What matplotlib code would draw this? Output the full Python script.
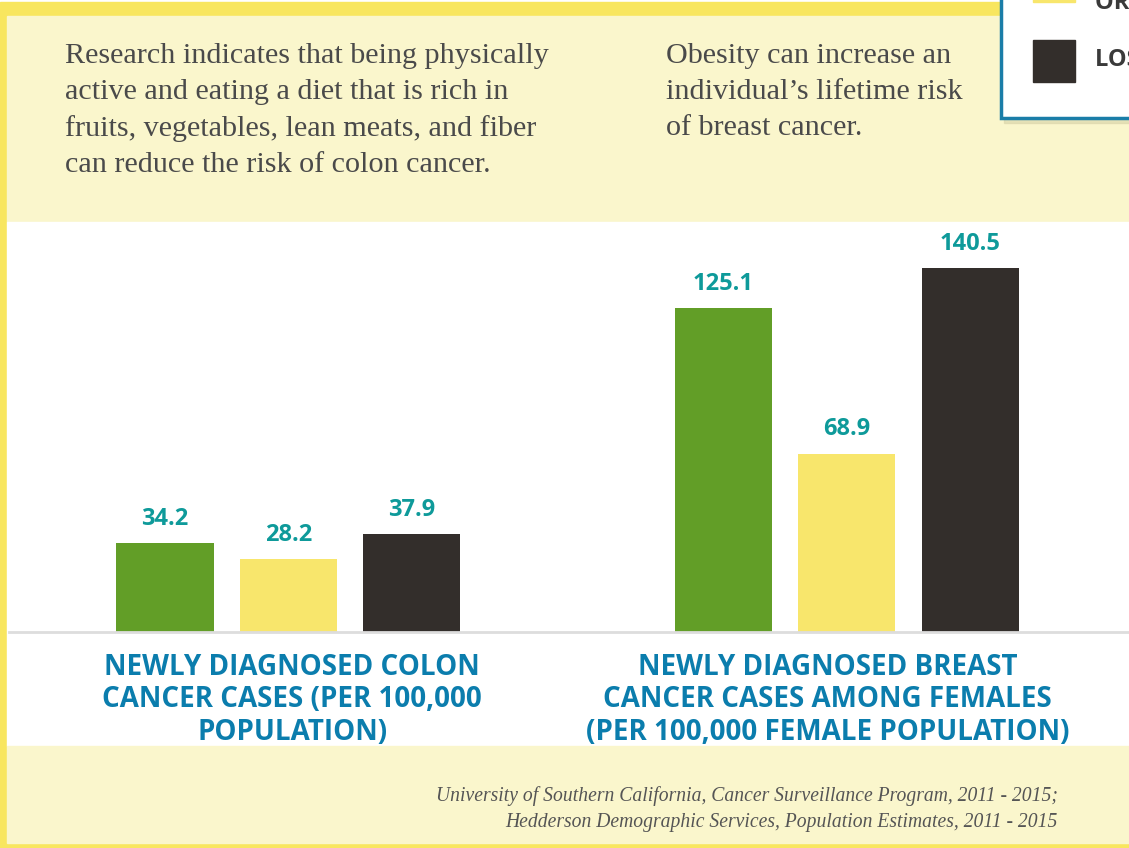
import matplotlib
matplotlib.use("Agg")
import matplotlib.pyplot as plt
from matplotlib.patches import Rectangle

# data
categories = ["NEWLY DIAGNOSED COLON\nCANCER CASES (PER 100,000\nPOPULATION)",
              "NEWLY DIAGNOSED BREAST\nCANCER CASES AMONG FEMALES\n(PER 100,000 FEMALE POPULATION)"]
series_names = ["GREEN", "ORANGE COUNTY", "LOS ANGELES COUNTY"]
green_vals = [34.2, 125.1]
yellow_vals = [28.2, 68.9]
black_vals = [37.9, 140.5]

bar_colors = ["#629E27", "#F8E66C", "#332E2B"]
teal = "#0E9A9A"
blue = "#0B7DAD"
yellow_border = "#F8E65F"
cream = "#FAF6CC"
text_gray = "#4A4A4A"

W, H = 1129, 848
fig = plt.figure(figsize=(W / 100, H / 100), dpi=100)
fig.patch.set_facecolor("white")

# background layer in pixel coordinates
bg = fig.add_axes([0, 0, 1, 1])
bg.set_xlim(0, W)
bg.set_ylim(H, 0)
bg.axis("off")
bg.add_patch(Rectangle((0, 2), W, H, color=yellow_border, zorder=0))
bg.add_patch(Rectangle((7, 16), W, 206, color=cream, zorder=1))
bg.add_patch(Rectangle((7, 222), W, 524, color="white", zorder=1))
bg.add_patch(Rectangle((7, 746), W, 97, color=cream, zorder=1))

serif = ["Liberation Serif", "DejaVu Serif"]
bg.text(65, 43, "Research indicates that being physically\nactive and eating a diet that is rich in\n"
        "fruits, vegetables, lean meats, and fiber\ncan reduce the risk of colon cancer.",
        family=serif, fontsize=21.7, color=text_gray, va="top", ha="left",
        linespacing=1.49, zorder=3)
bg.text(666, 43, "Obesity can increase an\nindividual\u2019s lifetime risk\nof breast cancer.",
        family=serif, fontsize=21.7, color=text_gray, va="top", ha="left",
        linespacing=1.49, zorder=3)

# legend box (cut off at right edge)
bg.add_patch(Rectangle((1004, -5), 140, 128, color="#D8D3A8", alpha=0.6, zorder=3))
bg.add_patch(Rectangle((1001, -5), 140, 123, facecolor="white", edgecolor="#1A7DA8",
                       linewidth=2.5, zorder=4))
bg.add_patch(Rectangle((1033, -10), 42, 12, color=bar_colors[1], zorder=5))
bg.add_patch(Rectangle((1033, 40), 42, 42, color=bar_colors[2], zorder=5))
bg.text(1095, 3, series_names[1], family="Open Sans", fontweight="bold", fontsize=17,
        color="#3A3A3A", va="center", ha="left", zorder=5, clip_on=True)
bg.text(1095, 60, series_names[2], family="Open Sans", fontweight="bold", fontsize=17,
        color="#3A3A3A", va="center", ha="left", zorder=5, clip_on=True)

# source
bg.text(1058, 809, "University of Southern California, Cancer Surveillance Program, 2011 - 2015;\n"
        "Hedderson Demographic Services, Population Estimates, 2011 - 2015",
        family=serif, style="italic", fontsize=14.1, color="#555555",
        ha="right", va="center", linespacing=1.5, zorder=3)

# bar axes
ax = fig.add_axes([9 / W, 1 - 632 / H, (W - 9) / W, (632 - 222) / H])
ax.set_facecolor("none")
step = 123.5
group_gap = 558 / step
x0 = (288.5 - 9) / step
ax.set_xlim(0, (W - 9) / step)
ax.set_ylim(0, 410 / 2.59)
width = 97 / step
label_shift = [0.03, -0.155]
for g in range(2):
    vals = [green_vals[g], yellow_vals[g], black_vals[g]]
    for k, v in enumerate(vals):
        xc = x0 + g * group_gap + (k - 1)
        ax.bar(xc, v, width=width, color=bar_colors[k], zorder=2)
        ax.text(xc, v + 9.3, f"{v}", ha="center", va="center", color=teal,
                family="Open Sans", fontweight="bold", fontsize=17)
    ax.text(x0 + g * group_gap + label_shift[g], -8.0, categories[g], ha="center", va="top",
            color=blue, family="Open Sans", fontweight="bold", fontsize=20,
            linespacing=1.16, clip_on=False)
for s in ["top", "right", "left"]:
    ax.spines[s].set_visible(False)
ax.spines["bottom"].set_color("#DDDDDD")
ax.spines["bottom"].set_linewidth(2)
ax.set_xticks([])
ax.set_yticks([])

fig.savefig("out.png", dpi=100)
